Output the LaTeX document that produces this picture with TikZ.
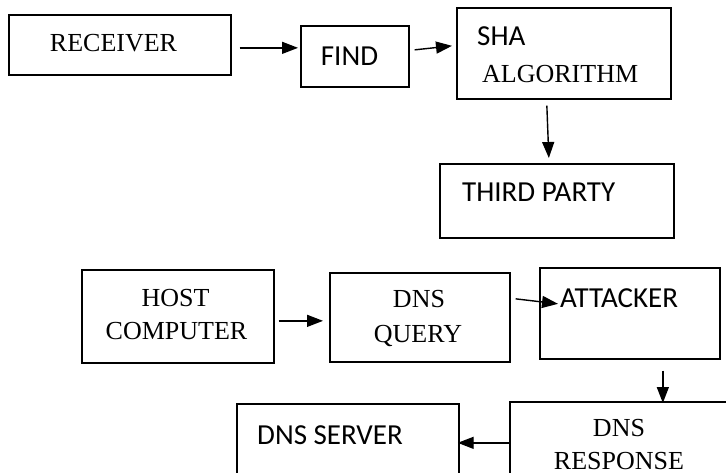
\documentclass[tikz,border=0pt]{standalone}
\usepackage{fontspec}
\setmainfont{Liberation Serif}
\newfontfamily\calibrilike{Carlito}
\usetikzlibrary{arrows.meta,calc}

\tikzset{
  box/.style={draw=black, line width=1.7pt, rectangle, inner sep=0pt, anchor=north west},
  serif/.style={inner sep=0pt, font=\fontsize{26}{34}\selectfont},
  sans/.style={inner sep=0pt, font=\calibrilike\fontsize{29}{34}\selectfont},
  flow/.style={line width=1.4pt, -{Triangle[length=16pt,width=12pt]}}
}

\begin{document}
\begin{tikzpicture}[x=1pt,y=-1pt]
  \path[use as bounding box, clip] (0,0) rectangle (726,473);
  \fill[white] (0,0) rectangle (726,473);

  % top chain
  \node[box, minimum width=222pt, minimum height=60pt] (recv) at (8,14) {};
  \node[box, minimum width=108pt, minimum height=61pt] (find) at (300,25) {};
  \node[box, minimum width=214pt, minimum height=91pt] (sha) at (456,7) {};
  \node[box, minimum width=234pt, minimum height=74pt] (third) at (439,163) {};

  \node[serif, anchor=base] (recvT) at (113.5,52) {RECEIVER};
  \node[sans, anchor=base] (findT) at (349.5,66) {FIND};
  \node[sans, anchor=base west] (shaT) at (477,46) {SHA};
  \node[serif, anchor=base west] (algT) at (482,83) {ALGORITHM};
  \node[sans, anchor=base west] (thirdT) at (462,202) {THIRD PARTY};

  % DNS chain
  \node[box, minimum width=192pt, minimum height=93pt] (host) at (81,269) {};
  \node[box, minimum width=180pt, minimum height=89pt] (query) at (329,272) {};
  \node[box, minimum width=180pt, minimum height=91pt] (attk) at (539,267) {};
  \node[box, minimum width=220pt, minimum height=100pt] (resp) at (509,401) {};
  \node[box, minimum width=222pt, minimum height=100pt] (server) at (236,403) {};

  \node[serif, anchor=base] (hostT) at (175.5,307) {HOST};
  \node[serif, anchor=base] (compT) at (176.5,339) {COMPUTER};
  \node[serif, anchor=base] (qdnsT) at (419,308) {DNS};
  \node[serif, anchor=base] (queryT) at (418,342) {QUERY};
  \node[sans, anchor=base west] (attkT) at (560,308) {ATTACKER};
  \node[serif, anchor=base] (rdnsT) at (619,436) {DNS};
  \node[serif, anchor=base] (respT) at (619,469) {RESPONSE};
  \node[sans, anchor=base west] (serverT) at (257,444) {DNS SERVER};

  % connectors
  \draw[flow] ($(recv.east)+(8,3)$) -- ($(find.west)+(-2,-8.5)$);
  \draw[flow] ($(find.east)+(5,-6.5)$) -- ($(sha.west)+(-4,-7.5)$);
  \draw[flow] ($(sha.south)+(-17,6)$) -- ($(third.north)+(-8,-5)$);
  \draw[flow] ($(host.east)+(4,4.5)$) -- ($(query.west)+(-6,3.5)$);
  \draw[flow] ($(query.east)+(5,-18.5)$) -- ($(attk.west)+(19,-9.5)$);
  \draw[flow] ($(attk.south)+(33,11)$) -- ($(resp.north)+(43,2)$);
  \draw[flow] ($(resp.west)+(0,-9)$) -- ($(server.east)+(-2,-11)$);
\end{tikzpicture}
\end{document}
